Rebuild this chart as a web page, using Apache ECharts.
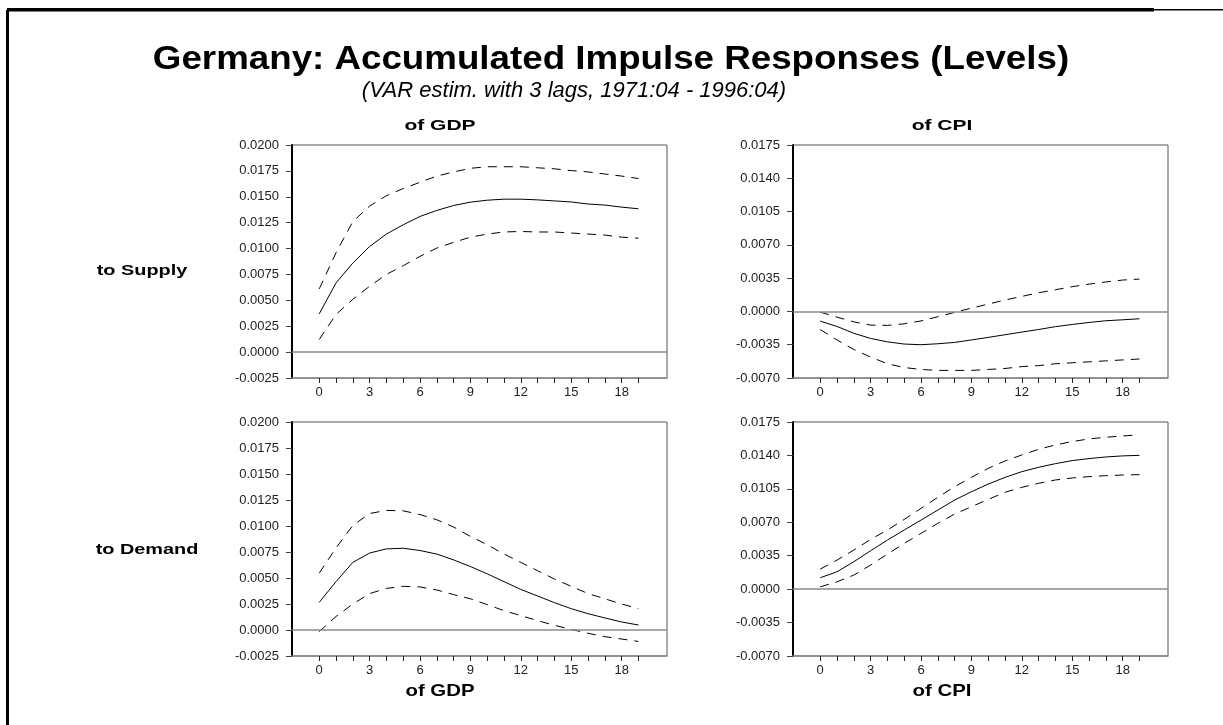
<!DOCTYPE html>
<html><head><meta charset="utf-8">
<script src="https://cdn.jsdelivr.net/npm/echarts@6/dist/echarts.min.js"></script>
<style>html,body{margin:0;padding:0;background:#fff}#c{width:1223px;height:725px}</style>
</head><body><div id="c"></div>
<script>
const steps = [0,1,2,3,4,5,6,7,8,9,10,11,12,13,14,15,16,17,18,19];
const xLabelValues = [0,3,6,9,12,15,18];

const gdpSupplyMid = [0.00369,0.00668,0.0086,0.0102,0.0114,0.0123,0.0131,0.01368,0.01416,0.01448,0.01467,0.01477,0.01477,0.0147,0.0146,0.0145,0.0143,0.0142,0.0140,0.01384];
const gdpSupplyUp  = [0.0061,0.0096,0.0126,0.0141,0.0151,0.0158,0.0164,0.0170,0.0174,0.01775,0.0179,0.0179,0.0179,0.0178,0.0177,0.01753,0.0174,0.0172,0.0170,0.01676];
const gdpSupplyLo  = [0.00122,0.00363,0.0051,0.00636,0.0075,0.00835,0.00925,0.01005,0.0106,0.0111,0.0114,0.0116,0.01165,0.0116,0.0116,0.0115,0.0114,0.0113,0.0111,0.0110];

const cpiSupplyMid = [-0.00102,-0.00158,-0.0023,-0.00284,-0.0032,-0.00343,-0.0035,-0.0034,-0.00326,-0.0030,-0.00273,-0.00245,-0.00217,-0.0019,-0.0016,-0.00137,-0.00116,-0.00098,-0.00088,-0.00077];
const cpiSupplyUp  = [-0.00007,-0.0006,-0.0011,-0.00144,-0.00147,-0.0013,-0.001,-0.00056,-0.0001,0.00035,0.00077,0.0012,0.00158,0.00196,0.00228,0.0026,0.00287,0.0031,0.0033,0.0034];
const cpiSupplyLo  = [-0.0019,-0.003,-0.004,-0.0048,-0.0055,-0.0059,-0.0061,-0.0062,-0.0062,-0.0062,-0.0061,-0.0060,-0.0058,-0.0057,-0.0055,-0.0054,-0.0053,-0.0052,-0.0051,-0.0050];

const gdpDemandMid = [0.00266,0.00465,0.0065,0.0074,0.0078,0.00786,0.00764,0.0073,0.00674,0.0061,0.0054,0.00465,0.0039,0.00327,0.00263,0.00205,0.00157,0.00116,0.00077,0.00048];
const gdpDemandUp  = [0.00546,0.0079,0.01005,0.0112,0.0115,0.01146,0.0111,0.0106,0.0099,0.0090,0.0082,0.0073,0.0065,0.0057,0.0049,0.0042,0.0035,0.0030,0.0025,0.00205];
const gdpDemandLo  = [-0.00016,0.0013,0.0025,0.0035,0.0040,0.0042,0.00414,0.00385,0.0034,0.003,0.00244,0.00186,0.00138,0.0009,0.00045,0.00006,-0.00032,-0.00064,-0.00087,-0.0011];

const cpiDemandMid = [0.00119,0.00182,0.00287,0.00402,0.00514,0.00619,0.00723,0.00828,0.00933,0.0102,0.0110,0.0117,0.0123,0.01276,0.01314,0.01346,0.01367,0.01384,0.01395,0.01401];
const cpiDemandUp  = [0.0021,0.00304,0.00409,0.00521,0.00619,0.0073,0.00846,0.00961,0.01073,0.01171,0.01265,0.01342,0.01405,0.01464,0.0151,0.01545,0.01573,0.0159,0.01604,0.01615];
const cpiDemandLo  = [0.00024,0.00077,0.00147,0.00252,0.00367,0.00479,0.00584,0.00689,0.00786,0.00863,0.0094,0.01014,0.01066,0.01108,0.01143,0.01164,0.01178,0.01188,0.01195,0.01199];

const gdpAxis = {min: -0.0025, max: 0.02, interval: 0.0025};
const cpiAxis = {min: -0.007, max: 0.0175, interval: 0.0035};

const FONT = "'Liberation Sans', Arial, Helvetica, sans-serif";
const grids = [
  {left: 292, top: 145, width: 375, height: 233},
  {left: 793, top: 145, width: 375, height: 233},
  {left: 292, top: 422, width: 375, height: 234},
  {left: 793, top: 422, width: 375, height: 234}
];
const panels = [
  {axis: gdpAxis, mid: gdpSupplyMid, up: gdpSupplyUp, lo: gdpSupplyLo},
  {axis: cpiAxis, mid: cpiSupplyMid, up: cpiSupplyUp, lo: cpiSupplyLo},
  {axis: gdpAxis, mid: gdpDemandMid, up: gdpDemandUp, lo: gdpDemandLo},
  {axis: cpiAxis, mid: cpiDemandMid, up: cpiDemandUp, lo: cpiDemandLo}
];

const pair = arr => steps.map((s, i) => [s, arr[i]]);
const fmt = v => (Math.abs(v) < 1e-10 ? 0 : v).toFixed(4);

const xAxis = [], yAxis = [], series = [];
panels.forEach((p, i) => {
  xAxis.push({
    type: 'value', gridIndex: i, min: -1.62, max: 20.7,
    axisLine: {onZero: false, lineStyle: {color: '#8a8a8a', width: 1.5}},
    axisTick: {customValues: steps, length: 5, lineStyle: {color: '#222', width: 1}},
    axisLabel: {customValues: xLabelValues, color: '#222', fontSize: 13, fontFamily: FONT, margin: 8},
    splitLine: {show: false}
  });
  yAxis.push({
    type: 'value', gridIndex: i, min: p.axis.min, max: p.axis.max, interval: p.axis.interval,
    axisLine: {show: true, onZero: false, lineStyle: {color: '#000', width: 2}},
    axisTick: {show: true, length: 6, lineStyle: {color: '#444', width: 1}},
    axisLabel: {color: '#222', fontSize: 13, fontFamily: FONT, margin: 13, formatter: fmt},
    splitLine: {show: false}
  });
  series.push({
    type: 'line', xAxisIndex: i, yAxisIndex: i, data: pair(p.mid), symbol: 'none', silent: true,
    lineStyle: {color: '#000', width: 1},
    markLine: {silent: true, symbol: 'none', label: {show: false},
      lineStyle: {color: '#8a8a8a', width: 1.5, type: 'solid'}, data: [{yAxis: 0}]}
  });
  series.push({
    type: 'line', xAxisIndex: i, yAxisIndex: i, data: pair(p.up), symbol: 'none', silent: true,
    lineStyle: {color: '#000', width: 1, type: [9, 7]}
  });
  series.push({
    type: 'line', xAxisIndex: i, yAxisIndex: i, data: pair(p.lo), symbol: 'none', silent: true,
    lineStyle: {color: '#000', width: 1, type: [9, 7]}
  });
});

const txt = (x, y, text, font, sx) => ({
  type: 'text', x: x, y: y, scaleX: sx || 1, silent: true,
  style: {text: text, font: font, fill: '#000', textAlign: 'center', textVerticalAlign: 'middle'}
});

const graphic = [
  {type: 'text', x: 10, y: -22, silent: true,
   style: {text: 'Figure 4: Germany: Impulse Responses of Output and Prices (Accumulated, Levels)', font: "22px 'Liberation Serif', 'Times New Roman', serif", fill: '#000', textVerticalAlign: 'top'}},
  {type: 'rect', silent: true, shape: {x: 7, y: 8, width: 1147, height: 3.5}, style: {fill: '#000'}},
  {type: 'rect', silent: true, shape: {x: 1154, y: 9, width: 69, height: 1.5}, style: {fill: '#000'}},
  {type: 'rect', silent: true, shape: {x: 6, y: 10, width: 3, height: 715}, style: {fill: '#000'}},
  txt(611, 60, 'Germany: Accumulated Impulse Responses (Levels)', "bold 34px " + FONT, 1.08),
  txt(574, 91, '(VAR estim. with 3 lags, 1971:04 - 1996:04)', "italic 22px " + FONT, 1),
  txt(440, 126, 'of GDP', "bold 15px " + FONT, 1.4),
  txt(942, 126, 'of CPI', "bold 15px " + FONT, 1.4),
  txt(440, 691, 'of GDP', "bold 17px " + FONT, 1.2),
  txt(942, 691, 'of CPI', "bold 17px " + FONT, 1.2),
  txt(142, 271, 'to Supply', "bold 14px " + FONT, 1.42),
  txt(147, 550, 'to Demand', "bold 14px " + FONT, 1.42)
];

const chart = echarts.init(document.getElementById('c'), null, {renderer: 'canvas'});
chart.setOption({
  animation: false,
  backgroundColor: '#fff',
  grid: grids.map(g => Object.assign({show: true, borderColor: '#555', borderWidth: 1, backgroundColor: 'transparent'}, g)),
  xAxis: xAxis,
  yAxis: yAxis,
  series: series,
  graphic: graphic
});
</script>
</body></html>
